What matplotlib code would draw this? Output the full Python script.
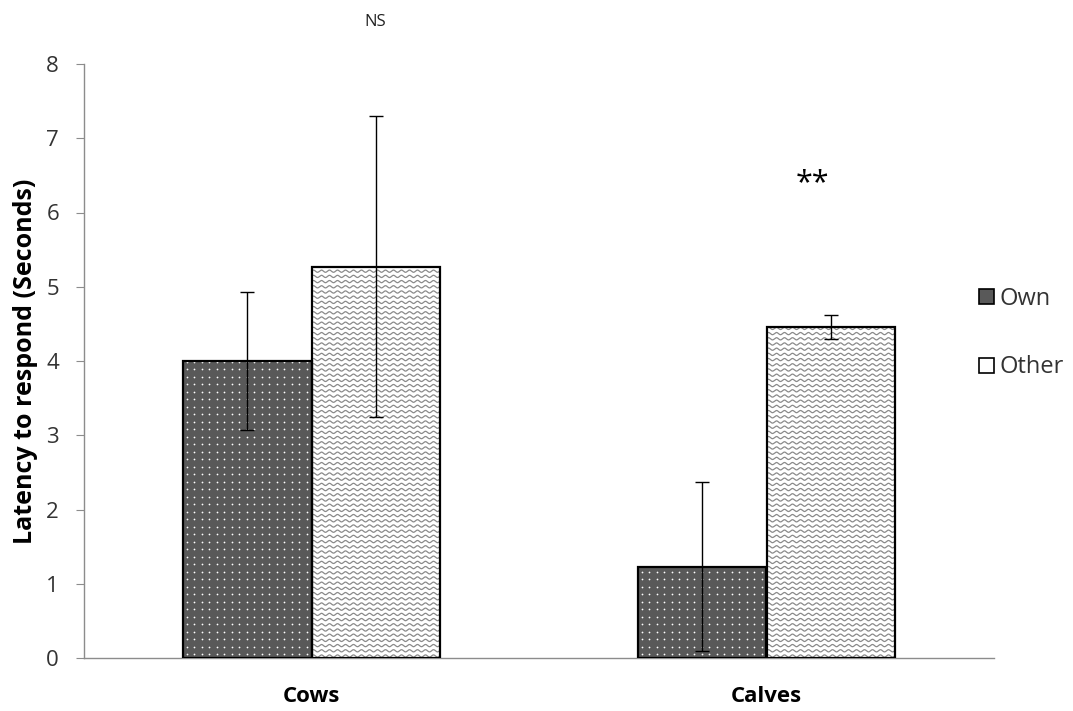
import numpy as np
from matplotlib import pyplot as plt
from matplotlib.patches import Patch

# latency means and error half-widths per group
groups = ['Cows', 'Calves']
own_mean = [4.00, 1.23]
own_err = [0.93, 1.14]
other_mean = [5.27, 4.46]
other_err = [2.03, 0.16]
sig_labels = ['NS', '**']
sig_heights = [8.57, 6.40]

plt.rcParams['font.family'] = ['Open Sans', 'DejaVu Sans']

W, H = 1073, 711
fig = plt.figure(figsize=(W / 100., H / 100.), dpi=100)
ax = fig.add_axes([84. / W, 53. / H, 910. / W, 594. / H])
ax.set_xlim(-0.5, 1.5)
ax.set_ylim(0, 8)

# size of one pixel in data units
px_x = 2.0 / 910.
px_y = 8.0 / 594.

x = np.arange(len(groups))
bw = 0.2835

bars_own = ax.bar(x - bw / 2, own_mean, bw, color='#595959', edgecolor='none', zorder=1)
bars_oth = ax.bar(x + bw / 2, other_mean, bw, color='white', edgecolor='none', zorder=1)

# white dot texture on the dark bars
for b in bars_own:
    x0, y0 = b.get_x(), b.get_y()
    w, h = b.get_width(), b.get_height()
    xs = np.arange(x0 + 4 * px_x, x0 + w, 7.5 * px_x)
    ys = np.arange(y0 + 4 * px_y, y0 + h, 7.5 * px_y)
    gx, gy = np.meshgrid(xs, ys)
    sc = ax.scatter(gx.ravel(), gy.ravel(), s=1.6, c='white', linewidths=0, zorder=2)
    sc.set_clip_path(b)

# wavy line texture on the light bars
for b in bars_oth:
    x0, y0 = b.get_x(), b.get_y()
    w, h = b.get_width(), b.get_height()
    xx = np.linspace(x0, x0 + w, 400)
    for yr in np.arange(y0 + 2 * px_y, y0 + h + 3 * px_y, 5.2 * px_y):
        yy = yr + 1.1 * px_y * np.sin(2 * np.pi * (xx - x0) / (8.0 * px_x))
        ln, = ax.plot(xx, yy, color='#8a8a8a', lw=0.9, zorder=2)
        ln.set_clip_path(b)

# outlines on top of the textures
ax.bar(x - bw / 2, own_mean, bw, color='none', edgecolor='black', lw=1.6, zorder=3)
ax.bar(x + bw / 2, other_mean, bw, color='none', edgecolor='black', lw=1.6, zorder=3)

ax.errorbar(x - bw / 2, own_mean, yerr=own_err, fmt='none', ecolor='black',
            elinewidth=1.0, capsize=4.7, capthick=1.0, zorder=4)
ax.errorbar(x + bw / 2, other_mean, yerr=other_err, fmt='none', ecolor='black',
            elinewidth=1.0, capsize=4.7, capthick=1.0, zorder=4)

ax.text(x[0] + bw / 2 - 0.002, sig_heights[0], sig_labels[0], ha='center', va='center',
        fontsize=12, color='#222222', clip_on=False)
ax.text(x[1] + 0.10, sig_heights[1], sig_labels[1], ha='center', va='center',
        fontsize=22, color='black', clip_on=False)

for s in ['top', 'right']:
    ax.spines[s].set_visible(False)
ax.spines['left'].set_color('#8c8c8c')
ax.spines['bottom'].set_color('#8c8c8c')
ax.spines['left'].set_linewidth(1.0)
ax.spines['bottom'].set_linewidth(1.0)

ax.set_yticks(range(0, 9))
ax.tick_params(axis='y', direction='out', length=6, color='#8c8c8c',
               labelsize=16, labelcolor='#333333', pad=12)
ax.set_xticks(x)
ax.set_xticklabels(groups, fontsize=16, fontweight='bold')
ax.tick_params(axis='x', length=0, pad=20)

ax.set_ylabel('Latency to respond (Seconds)', fontsize=18, fontweight='bold', labelpad=6)

handles = [Patch(facecolor='#595959', edgecolor='black', lw=1.2),
           Patch(facecolor='white', edgecolor='black', lw=1.2)]
leg = ax.legend(handles, ['Own', 'Other'], loc='center left',
                bbox_to_anchor=(970. / W, (711 - 333.) / H), bbox_transform=fig.transFigure,
                frameon=False, fontsize=17, handlelength=0.6, handleheight=0.6,
                handletextpad=0.25, labelspacing=1.9, borderaxespad=0)
for t in leg.get_texts():
    t.set_color('#333333')

fig.savefig('out.png', dpi=100)
